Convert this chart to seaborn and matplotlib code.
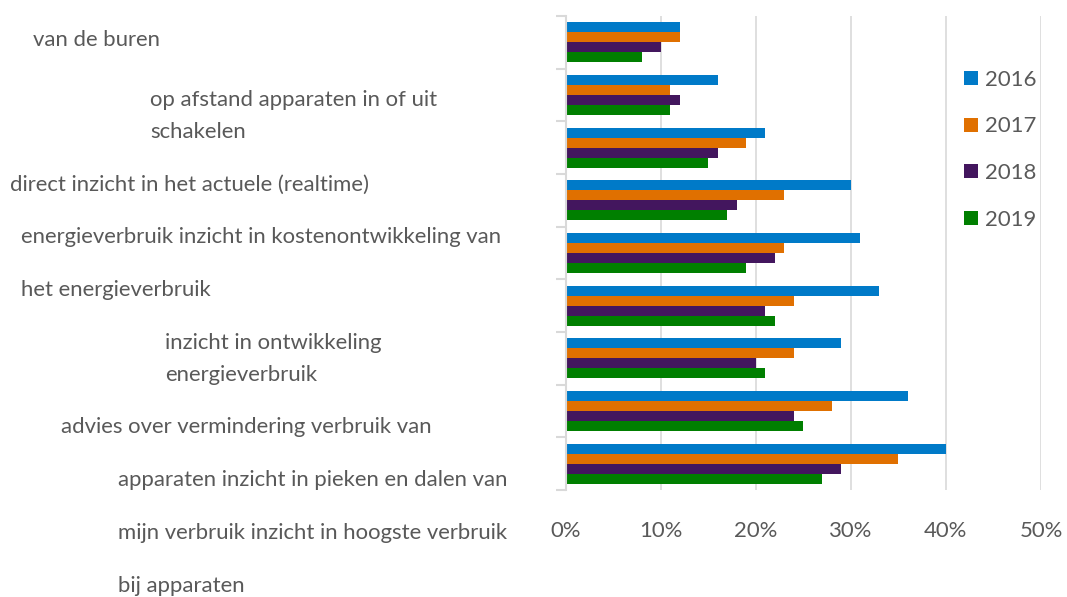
import matplotlib
matplotlib.use('Agg')
import matplotlib.pyplot as plt
import pandas as pd
import seaborn as sns
from matplotlib.ticker import PercentFormatter, FixedLocator

# Data (percentages), top category first
categories = [
    'vergelijking met verbruik van de buren',
    'op afstand apparaten in of uit schakelen',
    'direct inzicht in het actuele (realtime) energieverbruik',
    'inzicht in kostenontwikkeling van het energieverbruik',
    'inzicht in ontwikkeling energieverbruik',
    'advies over vermindering verbruik van apparaten',
    'inzicht in pieken en dalen van mijn verbruik',
    'inzicht in hoogste verbruik bij apparaten',
    'overig',
]
years = ['2016', '2017', '2018', '2019']
v2016 = [12, 16, 21, 30, 31, 33, 29, 36, 40]
v2017 = [12, 11, 19, 23, 23, 24, 24, 28, 35]
v2018 = [10, 12, 16, 18, 22, 21, 20, 24, 29]
v2019 = [8, 11, 15, 17, 19, 22, 21, 25, 27]
x_ticks = [0, 10, 20, 30, 40, 50]

# the category labels are drawn the way the original shows them (shifted lines)
label_lines = [
    'van de buren',
    'op afstand apparaten in of uit',
    'schakelen',
    'direct inzicht in het actuele (realtime)',
    'energieverbruik inzicht in kostenontwikkeling van',
    'het energieverbruik',
    'inzicht in ontwikkeling',
    'energieverbruik',
    'advies over vermindering verbruik van',
    'apparaten inzicht in pieken en dalen van',
    'mijn verbruik inzicht in hoogste verbruik',
    'bij apparaten',
]
# pixel positions (left x, centre y) of those lines
label_x = [33, 150, 150, 10, 21, 21, 165, 165, 61, 118, 118, 118]
label_y = [40, 100, 132, 185, 237, 290, 343, 375, 427, 480, 533, 586]

colors = ['#007ac8', '#e07000', '#43165e', '#007f00']

df = pd.DataFrame({'categorie': categories, '2016': v2016, '2017': v2017,
                   '2018': v2018, '2019': v2019})
df_long = df.melt(id_vars='categorie', var_name='jaar', value_name='pct')

W, H = 1067, 597
text_color = '#595959'
grid_color = '#d9d9d9'
fsize = 15.9

sns.set_theme(style='white')
plt.rcParams['font.family'] = ['Lato', 'DejaVu Sans']

fig = plt.figure(figsize=(W / 100, H / 100), dpi=100)
ax = fig.add_axes([565.5 / W, 1 - 490 / H, (1041 - 565.5) / W, (490 - 16) / H])

sns.barplot(data=df_long, y='categorie', x='pct', hue='jaar', order=categories,
            hue_order=years, palette=colors, width=0.76, saturation=1,
            linewidth=0, orient='h', ax=ax)

ax.set_xlim(0, 50)
ax.set_ylim(len(categories) - 0.5, -0.5)
ax.xaxis.set_major_locator(FixedLocator(x_ticks))
ax.xaxis.set_major_formatter(PercentFormatter(100, decimals=0))
ax.grid(axis='x', color=grid_color, linewidth=1.2)
ax.set_axisbelow(True)
ax.set_xlabel('')
ax.set_ylabel('')
ax.set_yticks([])
ax.yaxis.set_minor_locator(FixedLocator([i - 0.5 for i in range(len(categories) + 1)]))
ax.tick_params(axis='y', which='minor', length=7, width=1.5, color=grid_color, left=True)
ax.tick_params(axis='x', length=0, pad=22, labelsize=fsize, labelcolor=text_color)
for s in ['top', 'right', 'bottom']:
    ax.spines[s].set_visible(False)
ax.spines['left'].set_color(grid_color)
ax.spines['left'].set_linewidth(1.5)

for line, lx, ly in zip(label_lines, label_x, label_y):
    fig.text(lx / W, 1 - ly / H, line, ha='left', va='center', fontsize=fsize,
             color=text_color)

sns.move_legend(ax, 'upper left', bbox_to_anchor=(964 / W, 1 - 70 / H),
                bbox_transform=fig.transFigure, frameon=False, title=None,
                fontsize=fsize, handlelength=0.63, handleheight=0.63,
                handletextpad=0.3, labelspacing=1.2, borderpad=0, borderaxespad=0)
for t in ax.get_legend().get_texts():
    t.set_color(text_color)

fig.savefig('out.png', dpi=100)
